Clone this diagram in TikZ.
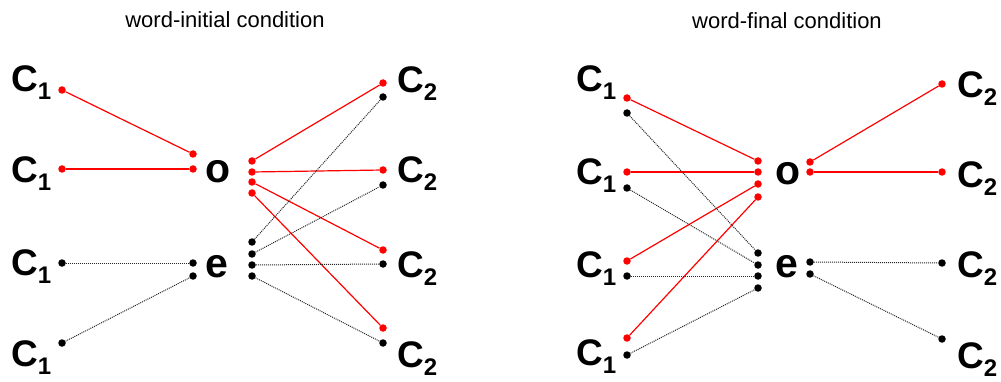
\documentclass[tikz,border=0pt]{standalone}
\usepackage{fontspec}
\setmainfont{Liberation Sans}
\usepackage{tikz}
\usetikzlibrary{positioning}

\newcommand{\Cs}[1]{C\raisebox{-8pt}{\fontsize{24}{24}\selectfont #1}}

\begin{document}
\begin{tikzpicture}[
  x=1pt, y=-1pt,
  cons/.style  = {anchor=base west, inner sep=0pt,
                  font=\fontsize{37}{37}\selectfont\bfseries},
  vow/.style   = {anchor=base west, inner sep=0pt,
                  font=\fontsize{41}{41}\selectfont\bfseries},
  head/.style  = {anchor=base, inner sep=0pt,
                  font=\fontsize{22}{22}\selectfont},
  kdot/.style  = {circle, fill=black, inner sep=0pt, minimum size=7.5pt},
  rdot/.style  = {kdot, fill=red},
  hit/.style   = {red, line width=1.2pt},
  miss/.style  = {black!85, line width=1pt, dash pattern=on 1pt off 1pt}
]
  \useasboundingbox (0,0) rectangle (1001,382);

  % word-initial condition
  \node[head] (ihead) at (225,28) {word-initial condition};
  \node[cons] (iC1a) at (11,92)  {\Cs{1}};
  \node[cons] (iC1b) at (11,183) {\Cs{1}};
  \node[cons] (iC1c) at (11,275) {\Cs{1}};
  \node[cons] (iC1d) at (11,366) {\Cs{1}};
  \node[vow]  (io)   at (205,183) {o};
  \node[vow]  (ie)   at (205,277) {e};
  \node[cons] (iC2a) at (397,93)  {\Cs{2}};
  \node[cons] (iC2b) at (397,183) {\Cs{2}};
  \node[cons] (iC2c) at (397,277) {\Cs{2}};
  \node[cons] (iC2d) at (397,367) {\Cs{2}};

  \node[rdot] (i1a) at (62,90)  {};
  \node[rdot] (i1b) at (62,169) {};
  \node[kdot] (i1c) at (62,263) {};
  \node[kdot] (i1d) at (62,343) {};
  \node[rdot] (ioL1) at (193,154) {};
  \node[rdot] (ioL2) at (193,169) {};
  \node[kdot] (ieL1) at (193,263) {};
  \node[kdot] (ieL2) at (193,276) {};
  \node[rdot] (ioR1) at (252,161) {};
  \node[rdot] (ioR2) at (252,172) {};
  \node[rdot] (ioR3) at (252,182) {};
  \node[rdot] (ioR4) at (252,193) {};
  \node[kdot] (ieR1) at (252,242) {};
  \node[kdot] (ieR2) at (252,254) {};
  \node[kdot] (ieR3) at (252,265) {};
  \node[kdot] (ieR4) at (252,276) {};
  \node[rdot] (i2ar) at (383,83)  {};
  \node[kdot] (i2ak) at (383,97)  {};
  \node[rdot] (i2br) at (383,170) {};
  \node[kdot] (i2bk) at (383,185) {};
  \node[rdot] (i2cr) at (383,250) {};
  \node[kdot] (i2ck) at (383,264) {};
  \node[rdot] (i2dr) at (383,328) {};
  \node[kdot] (i2dk) at (383,343) {};

  \draw[hit]  (i1a) -- (ioL1);
  \draw[hit]  (i1b) -- (ioL2);
  \draw[miss] (i1c) -- (ieL1);
  \draw[miss] (i1d) -- (ieL2);
  \draw[hit]  (ioR1) -- (i2ar);
  \draw[hit]  (ioR2) -- (i2br);
  \draw[hit]  (ioR3) -- (i2cr);
  \draw[hit]  (ioR4) -- (i2dr);
  \draw[miss] (ieR1) -- (i2ak);
  \draw[miss] (ieR2) -- (i2bk);
  \draw[miss] (ieR3) -- (i2ck);
  \draw[miss] (ieR4) -- (i2dk);

  % word-final condition
  \node[head] (fhead) at (787,29) {word-final condition};
  \node[cons] (fC1a) at (576,92)  {\Cs{1}};
  \node[cons] (fC1b) at (576,185) {\Cs{1}};
  \node[cons] (fC1c) at (576,277) {\Cs{1}};
  \node[cons] (fC1d) at (576,365) {\Cs{1}};
  \node[vow]  (fo)   at (775,185) {o};
  \node[vow]  (fe)   at (775,277) {e};
  \node[cons] (fC2a) at (957,98)  {\Cs{2}};
  \node[cons] (fC2b) at (957,188) {\Cs{2}};
  \node[cons] (fC2c) at (957,277) {\Cs{2}};
  \node[cons] (fC2d) at (957,368) {\Cs{2}};

  \node[rdot] (f1ar) at (627,98)  {};
  \node[kdot] (f1ak) at (627,113) {};
  \node[rdot] (f1br) at (627,172) {};
  \node[kdot] (f1bk) at (627,188) {};
  \node[rdot] (f1cr) at (627,261) {};
  \node[kdot] (f1ck) at (627,276) {};
  \node[rdot] (f1dr) at (627,338) {};
  \node[kdot] (f1dk) at (627,355) {};
  \node[rdot] (foL1) at (758,161) {};
  \node[rdot] (foL2) at (758,172) {};
  \node[rdot] (foL3) at (758,184) {};
  \node[rdot] (foL4) at (758,197) {};
  \node[kdot] (feL1) at (758,253) {};
  \node[kdot] (feL2) at (758,265) {};
  \node[kdot] (feL3) at (758,276) {};
  \node[kdot] (feL4) at (758,288) {};
  \node[rdot] (foR1) at (810,162) {};
  \node[rdot] (foR2) at (810,172) {};
  \node[kdot] (feR1) at (810,262) {};
  \node[kdot] (feR2) at (810,274) {};
  \node[rdot] (f2a) at (942,84)  {};
  \node[rdot] (f2b) at (942,172) {};
  \node[kdot] (f2c) at (942,263) {};
  \node[kdot] (f2d) at (942,339) {};

  \draw[hit]  (f1ar) -- (foL1);
  \draw[hit]  (f1br) -- (foL2);
  \draw[hit]  (f1cr) -- (foL3);
  \draw[hit]  (f1dr) -- (foL4);
  \draw[miss] (f1ak) -- (feL1);
  \draw[miss] (f1bk) -- (feL2);
  \draw[miss] (f1ck) -- (feL3);
  \draw[miss] (f1dk) -- (feL4);
  \draw[hit]  (foR1) -- (f2a);
  \draw[hit]  (foR2) -- (f2b);
  \draw[miss] (feR1) -- (f2c);
  \draw[miss] (feR2) -- (f2d);
\end{tikzpicture}
\end{document}
